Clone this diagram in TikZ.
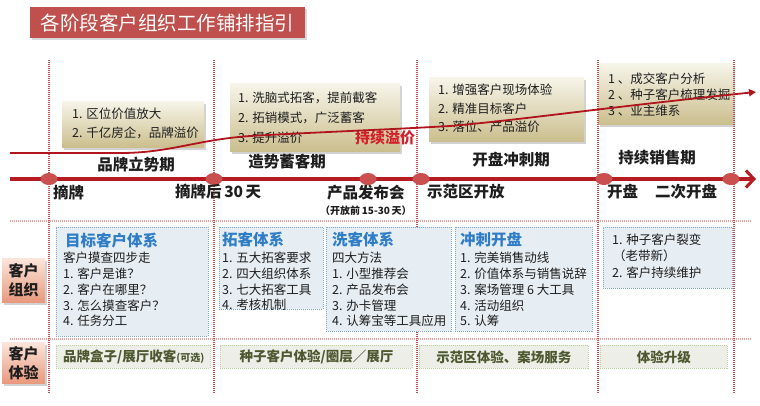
\documentclass[tikz,border=0pt]{standalone}
\usepackage{fontspec}
\setmainfont{Noto Sans CJK SC}
\usetikzlibrary{arrows.meta,shadows,shapes.geometric}
\definecolor{ttlred}{HTML}{C0504D}
\definecolor{vred}{HTML}{C0504D}
\definecolor{hred}{HTML}{E3A3A3}
\definecolor{tanT}{HTML}{F7F5EA}
\definecolor{tanB}{HTML}{CBBE8E}
\definecolor{curvered}{HTML}{B0141C}
\definecolor{linered}{HTML}{B51B20}
\definecolor{dotred}{HTML}{C9504F}
\definecolor{blueF}{HTML}{E6EEF4}
\definecolor{blueB}{HTML}{7EA9CF}
\definecolor{blueT}{HTML}{2F7DC6}
\definecolor{greenF}{HTML}{EDEEE7}
\definecolor{greenB}{HTML}{BCD596}
\definecolor{greenT}{HTML}{4E5830}
\definecolor{salT}{HTML}{FCE6DC}
\definecolor{salB}{HTML}{E8987C}
\definecolor{txtdark}{HTML}{1E1E1E}
\definecolor{accred}{HTML}{D2202A}
\newcommand\fsz[2]{\fontsize{#1}{#2}\selectfont}
\tikzset{
  titlebox/.style={fill=ttlred, inner sep=0, anchor=north west,
    drop shadow={shadow xshift=1.5pt,shadow yshift=-1.5pt,fill=black!30}},
  titletxt/.style={text=white, inner sep=0, font=\fsz{19.5}{24}},
  vline/.style={draw=vred, line width=1.4pt, dash pattern=on 1pt off 1pt},
  hline/.style={draw=hred, line width=1.2pt, dash pattern=on 1pt off 1pt},
  tanbox/.style={top color=tanT, bottom color=tanB, draw=none, inner sep=0, anchor=north west,
    drop shadow={shadow xshift=2pt,shadow yshift=-2.5pt,fill=black!35}},
  tantxt/.style={inner sep=0, align=left, text=txtdark, anchor=west},
  curveline/.style={draw=curvered, line width=1.8pt, -{Triangle[length=7pt,width=7pt]}},
  timeline/.style={draw=linered, line width=3.5pt, -{Straight Barb[length=8pt,width=17pt,line width=3pt]}},
  tdot/.style={ellipse, fill=dotred, minimum width=17pt, minimum height=12pt, inner sep=0},
  tlabel/.style={inner sep=0, text=txtdark, font=\fsz{15.5}{18}\bfseries},
  phase/.style={inner sep=0, text=txtdark, font=\fsz{15.5}{18}\bfseries},
  bluebox/.style={draw=blueB, line width=0.9pt, dash pattern=on 1pt off 1pt, fill=blueF, inner sep=0, anchor=north west},
  bluetitle/.style={inner sep=0, anchor=west, text=blueT, font=\fsz{15.5}{18}\bfseries},
  bluetxt/.style={inner sep=0, anchor=west, align=left, text=txtdark, font=\fsz{12.5}{15.75}},
  greenbox/.style={draw=greenB, line width=0.9pt, dash pattern=on 1pt off 1pt, fill=greenF, inner sep=0, anchor=north west},
  greentxt/.style={inner sep=0, text=greenT, font=\fsz{13.5}{16}\bfseries},
  sidebox/.style={top color=salT, bottom color=salB, draw=none, inner sep=0, anchor=north west,
    drop shadow={shadow xshift=2pt,shadow yshift=-2.5pt,fill=black!35}},
  sidetxt/.style={inner sep=0, align=center, text=txtdark, font=\fsz{15}{19}\bfseries},
}
\begin{document}
\begin{tikzpicture}[x=1pt,y=-1pt]
\useasboundingbox[fill=white] (0,0) rectangle (760,405);

% title
\node[titlebox, minimum width=275pt, minimum height=31pt] (title) at (30,7) {};
\node[titletxt] (titlet) at (title.center) {各阶段客户组织工作铺排指引};

% horizontal dotted separators
\coordinate (h1l) at (10,221); \coordinate (h1r) at (752,221);
\coordinate (h2l) at (10,339); \coordinate (h2r) at (752,339);
\draw[hline] (h1l) -- (h1r);
\draw[hline] (h2l) -- (h2r);

% tan boxes (top)
\node[tanbox, minimum width=142pt, minimum height=46pt] (tan1) at (62,101) {};
\node[tantxt, font=\fsz{12.5}{19}] (tan1t) at (72,123.5) {1. 区位价值放大\\2. 千亿房企，品牌溢价};
\node[tanbox, minimum width=170pt, minimum height=68pt] (tan2) at (230,83) {};
\node[tantxt, font=\fsz{12.5}{20}] (tan2t) at (238,118) {1. 洗脑式拓客，提前截客\\2. 拓销模式，广泛蓄客\\3. 提升溢价};
\node[tanbox, minimum width=155pt, minimum height=64pt] (tan3) at (429,77) {};
\node[tantxt, font=\fsz{12.5}{18.5}] (tan3t) at (438,108.5) {1. 增强客户现场体验\\2. 精准目标客户\\3. 落位、产品溢价};
\node[tanbox, minimum width=135pt, minimum height=61pt] (tan4) at (598,63) {};
\node[tantxt, font=\fsz{12.5}{16}] (tan4t) at (608,95) {1 、成交客户分析\\2 、种子客户梳理发掘\\3 、业主维系};

% vertical dotted phase separators
\foreach \x/\n in {49/a,214/b,417/c,598/d,734/e}{
  \coordinate (v\n t) at (\x,60);
  \coordinate (v\n b) at (\x,394);
  \draw[vline] (v\n t) -- (v\n b);
}

% red accent text
\node[inner sep=0, anchor=west, text=accred, font=\fsz{15}{18}\bfseries] (acc) at (355,138) {持续溢价};

% growth curve
\coordinate (c0) at (10,153);
\coordinate (c1) at (120,153);
\coordinate (c2) at (250,136);
\coordinate (c3) at (450,126);
\coordinate (c4) at (756,92);
\draw[curveline] (c0) -- (c1) .. controls (170,153) and (195,140) .. (c2)
  .. controls (320,132) and (380,130) .. (c3) .. controls (520,120) and (600,108) .. (c4);

% timeline
\coordinate (t0) at (10,179);
\coordinate (t1) at (756,179);
\draw[timeline] (t0) -- (t1);
\foreach \x/\n in {49/1,214/2,368/3,421/4,604/5,731/6}{
  \node[tdot] (d\n) at (\x,179) {};
}

% phase labels
\node[phase] (p1) at (136,165) {品牌立势期};
\node[phase] (p2) at (287,162) {造势蓄客期};
\node[phase] (p3) at (511,160) {开盘冲刺期};
\node[phase] (p4) at (657,158) {持续销售期};

% milestone labels
\node[tlabel, anchor=west] (m1) at (53,192) {摘牌};
\node[tlabel, anchor=west] (m2) at (175,191) {摘牌后\,30\,天};
\node[tlabel, anchor=west] (m3) at (327,193) {产品发布会};
\node[inner sep=0, anchor=west, text=txtdark, font=\fsz{10}{12}\bfseries] (m3b) at (320,211) {（开放前\,15-30\,天）};
\node[tlabel, anchor=west] (m4) at (427,192) {示范区开放};
\node[tlabel, anchor=west] (m5) at (607,192) {开盘};
\node[tlabel, anchor=west] (m6) at (655,192) {二次开盘};

% side labels
\node[sidebox, minimum width=43pt, minimum height=44pt] (s1) at (2,258) {};
\node[sidetxt] (s1t) at (s1.center) {客户\\组织};
\node[sidebox, minimum width=43pt, minimum height=41pt] (s2) at (2,342) {};
\node[sidetxt] (s2t) at (s2.center) {客户\\体验};

% blue boxes (customer organisation)
\node[bluebox, minimum width=152pt, minimum height=109pt] (b1) at (56,227) {};
\node[bluetitle] (b1h) at (65,241) {目标客户体系};
\node[bluetxt] (b1t) at (63,289.5) {客户摸查四步走\\1. 客户是谁？\\2. 客户在哪里？\\3. 怎么摸查客户？\\4. 任务分工};

\node[bluebox, minimum width=104pt, minimum height=82pt] (b2) at (219,227) {};
\node[bluetitle] (b2h) at (222,240) {拓客体系};
\node[bluetxt] (b2t) at (222,281.5) {1. 五大拓客要求\\2. 四大组织体系\\3. 七大拓客工具\\4. 考核机制};

\node[bluebox, minimum width=125pt, minimum height=104pt] (b3) at (326,227) {};
\node[bluetitle] (b3h) at (332,240) {洗客体系};
\node[bluetxt] (b3t) at (332,289.5) {四大方法\\1. 小型推荐会\\2. 产品发布会\\3. 办卡管理\\4. 认筹宝等工具应用};

\node[bluebox, minimum width=137pt, minimum height=104pt] (b4) at (455,227) {};
\node[bluetitle] (b4h) at (460,240) {冲刺开盘};
\node[bluetxt] (b4t) at (460,289.5) {1. 完美销售动线\\2. 价值体系与销售说辞\\3. 案场管理 6 大工具\\4. 活动组织\\5. 认筹};

\node[bluebox, minimum width=129pt, minimum height=61pt] (b5) at (603,227) {};
\node[bluetxt, font=\fsz{12.5}{16.5}] (b5t) at (612,256) {1. 种子客户裂变\\\hspace{1pt}（老带新）\\2. 客户持续维护};

% green boxes (customer experience)
\node[greenbox, minimum width=154pt, minimum height=23pt] (g1) at (56,345) {};
\node[greentxt, anchor=west] (g1t) at (63,356.5) {品牌盒子/展厅收客{\fsz{10}{12}(可选)}};
\node[greenbox, minimum width=192pt, minimum height=23pt] (g2) at (220,345) {};
\node[greentxt] (g2t) at (g2.center) {种子客户体验/圈层／展厅};
\node[greenbox, minimum width=169pt, minimum height=23pt] (g3) at (419,345) {};
\node[greentxt] (g3t) at (g3.center) {示范区体验、案场服务};
\node[greenbox, minimum width=127pt, minimum height=23pt] (g4) at (600,345) {};
\node[greentxt] (g4t) at (g4.center) {体验升级};
\end{tikzpicture}
\end{document}
